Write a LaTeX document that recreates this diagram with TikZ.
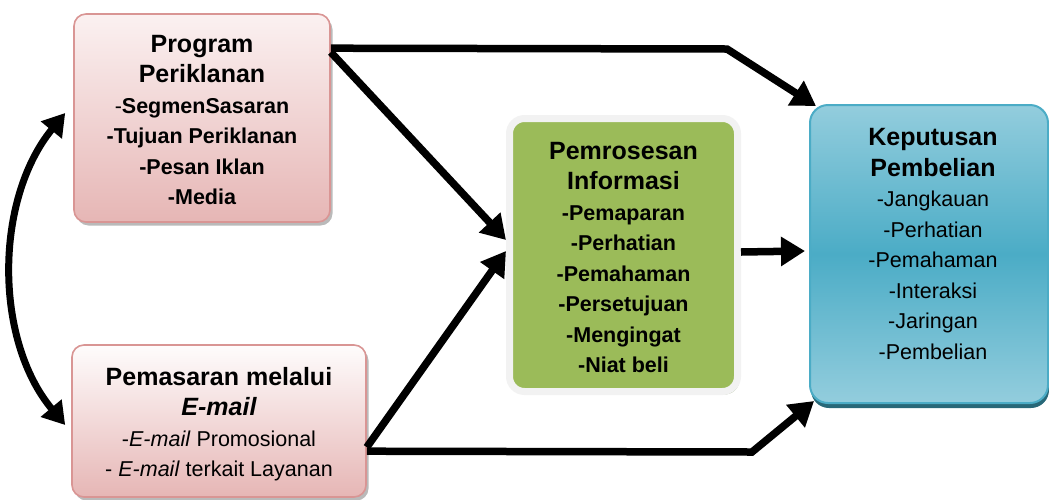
\documentclass[tikz,border=0pt]{standalone}
\usepackage{fontspec}
\setmainfont{Liberation Sans}
\usetikzlibrary{arrows.meta,shadows,calc}
\definecolor{pinkline}{HTML}{D99594}
\definecolor{pinktop}{HTML}{FBF1F1}
\definecolor{pinkbot}{HTML}{E6B6B5}
\definecolor{greenfill}{HTML}{9BBB59}
\definecolor{greenrim}{HTML}{F2F2F2}
\definecolor{greenshadow}{HTML}{A9B894}
\definecolor{bluelight}{HTML}{93CDDD}
\definecolor{bluemid}{HTML}{4BACC6}
\definecolor{blueshadow}{HTML}{286878}
\newcommand{\tsize}{\fontsize{25}{30.5}\selectfont}
\newcommand{\isize}{\fontsize{21.5}{30.5}\selectfont}
\begin{document}
\begin{tikzpicture}[x=1pt,y=-1pt,
  pinkbox/.style={rectangle, rounded corners=12pt, inner sep=0pt, draw=pinkline, line width=1.6pt,
    top color=pinktop, bottom color=pinkbot,
    drop shadow={shadow xshift=2.5pt, shadow yshift=-3.5pt, fill=black!60, opacity=0.45}},
  greenbox/.style={rectangle, rounded corners=15pt, inner sep=0pt, draw=greenrim, line width=7pt,
    fill=greenfill,
    drop shadow={shadow xshift=2pt, shadow yshift=-3pt, fill=greenshadow, opacity=1}},
  bluebox/.style={rectangle, rounded corners=18pt, inner sep=0pt, draw=bluemid, line width=2pt,
    shading=axis, top color=bluelight, bottom color=bluelight, middle color=bluemid,
    drop shadow={shadow xshift=1pt, shadow yshift=-5pt, fill=blueshadow, opacity=1}},
  txt/.style={align=center, inner sep=0pt, font=\isize},
  arr/.style={line width=7.5pt, -{Triangle[length=24pt,width=28pt]}},
  darr/.style={line width=7pt, {Triangle[length=22pt,width=26pt]}-{Triangle[length=22pt,width=26pt]}}
]
\useasboundingbox (0,0) rectangle (1049,499);

\node[pinkbox, minimum width=256pt, minimum height=208pt] (A) at (202,118) {};
\node[pinkbox, minimum width=294pt, minimum height=152pt, top color=white!80!pinktop] (B) at (219,421) {};
\node[greenbox, minimum width=228pt, minimum height=273pt] (C) at (623.5,255) {};
\node[bluebox, minimum width=238pt, minimum height=298pt] (D) at (929,254) {};

\node[txt, font=\bfseries\isize] (At) at (202,120)
  {{\tsize Program}\\{\tsize Periklanan}\\{\mdseries -}SegmenSasaran\\-Tujuan Periklanan\\-Pesan Iklan\\-Media};
\node[txt] (Bt) at (219,424)
  {{\tsize\bfseries Pemasaran melalui}\\{\tsize\bfseries\itshape E-mail}\\-\textit{E-mail} Promosional\\- \textit{E-mail} terkait Layanan};
\node[txt, font=\bfseries\isize] (Ct) at (623.5,257.5)
  {{\tsize Pemrosesan}\\{\tsize Informasi}\\-Pemaparan\\-Perhatian\\-Pemahaman\\-Persetujuan\\-Mengingat\\-Niat beli};
\node[txt] (Dt) at (933,244)
  {{\tsize\bfseries Keputusan}\\{\tsize\bfseries Pembelian}\\-Jangkauan\\-Perhatian\\-Pemahaman\\-Interaksi\\-Jaringan\\-Pembelian};

\coordinate (k1) at (727,49);
\coordinate (k2) at (752,452);

\draw[arr] ([yshift=-35pt]A.north east) -- (k1) -- ([xshift=7pt,yshift=-2pt]D.north west);
\draw[arr] ([yshift=-39pt]A.north east) -- ([yshift=15pt]C.west);
\draw[arr] ([yshift=-103pt]B.north east) -- ([yshift=4pt]C.west);
\draw[arr] ([yshift=-107pt]B.north east) -- (k2) -- ([xshift=5pt,yshift=3pt]D.south west);
\draw[arr] ([yshift=3pt]C.east) -- ([xshift=-4pt,yshift=3pt]D.west);
\draw[darr] ([xshift=-8pt,yshift=5pt]A.west) .. controls +(-71,87) and +(-71,-85) .. ([xshift=-6pt,yshift=-4pt]B.west);
\end{tikzpicture}
\end{document}
